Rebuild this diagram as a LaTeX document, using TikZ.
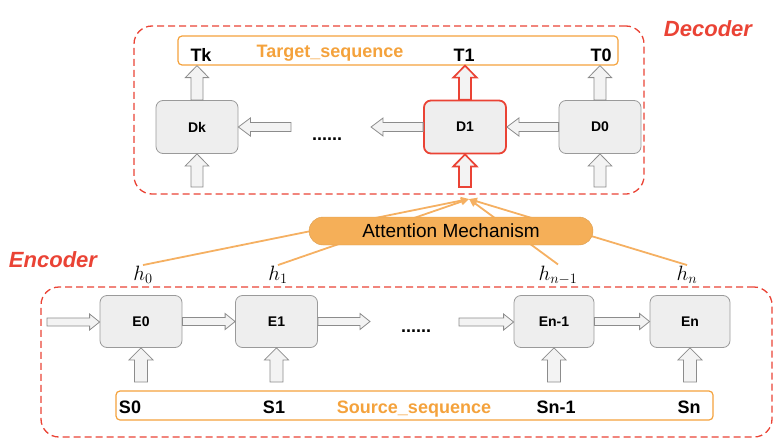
\documentclass[tikz,border=0pt]{standalone}
\usepackage{fontspec}
\setmainfont{Liberation Sans}
\usetikzlibrary{calc,arrows.meta}
\definecolor{myred}{HTML}{EA4335}
\definecolor{seqor}{HTML}{F4A23C}
\definecolor{pillor}{HTML}{F5AF58}
\definecolor{lineor}{HTML}{F5B062}
\definecolor{boxfill}{HTML}{EEEEEE}
\definecolor{boxgray}{HTML}{9A9A9A}
\definecolor{arrfill}{HTML}{F3F3F3}
\definecolor{arrgray}{HTML}{8C8C8C}
\tikzset{
  cell/.style={draw=boxgray, fill=boxfill, rounded corners=7pt, line width=0.8pt,
    minimum width=82pt, minimum height=53pt, inner sep=0pt,
    font=\fontsize{14}{14}\selectfont\bfseries},
  redcell/.style={cell, draw=myred, line width=1.8pt},
  frame/.style={draw=myred, dash pattern=on 7pt off 4pt, line width=1.3pt, rounded corners=18pt, inner sep=0pt},
  seqbox/.style={draw=seqor, line width=1.2pt, rounded corners=4pt, inner sep=0pt},
  seqtxt/.style={font=\fontsize{18}{18}\selectfont\bfseries, inner sep=0pt, anchor=base},
  seqname/.style={seqtxt, text=seqor},
  garrow/.style={draw=arrgray, fill=arrfill, line width=0.8pt, line join=miter},
  rarrow/.style={draw=myred, fill=arrfill, line width=1.7pt, line join=miter},
  att/.style={draw=lineor, line width=1.8pt, -{Triangle[length=8pt,width=7pt]}},
  pill/.style={fill=pillor, draw=pillor!90!black, line width=0.4pt, rounded corners=14pt,
    minimum width=284pt, minimum height=28pt, inner sep=0pt,
    font=\fontsize{19}{19}\selectfont},
  sidelbl/.style={font=\fontsize{22}{22}\selectfont\bfseries\itshape, text=myred, inner sep=0pt},
  hlbl/.style={font=\fontsize{20.74}{24}\selectfont, inner sep=1pt},
  dots/.style={font=\fontsize{18}{18}\selectfont\bfseries, inner sep=0pt, anchor=base}
}
% vertical block arrow going up: style, from, to, half shaft, half head, head length
\newcommand\arrup[6]{%
  \draw[#1] let \p1=(#2), \p2=(#3) in
    ({\x1-#4pt},\y1) -- ({\x1-#4pt},{\y2-#6pt}) -- ({\x1-#5pt},{\y2-#6pt}) -- (\x1,\y2)
    -- ({\x1+#5pt},{\y2-#6pt}) -- ({\x1+#4pt},{\y2-#6pt}) -- ({\x1+#4pt},\y1) -- cycle;}
% horizontal block arrow: style, from, to, half shaft, half head, head length
\newcommand\arrh[6]{%
  \draw[#1] let \p1=(#2), \p2=(#3), \p3=($(#3)!#6pt!(#2)$) in
    (\x1,{\y1-#4pt}) -- (\x3,{\y1-#4pt}) -- (\x3,{\y1-#5pt}) -- (\x2,\y1)
    -- (\x3,{\y1+#5pt}) -- (\x3,{\y1+#4pt}) -- (\x1,{\y1+#4pt}) -- cycle;}
\begin{document}
\begin{tikzpicture}[x=1pt,y=-1pt]
\useasboundingbox (0,0) rectangle (778,439);

% ---------- frames ----------
\node[frame, minimum width=510pt, minimum height=168pt] (decf) at (389,110) {};
\node[frame, minimum width=731pt, minimum height=150pt] (encf) at (406.5,362) {};
\node[sidelbl] (declbl) at (708,29) {Decoder};
\node[sidelbl] (enclbl) at (53,260) {Encoder};

% ---------- decoder ----------
\node[seqbox, minimum width=440pt, minimum height=29pt] (tgt) at (398,50.5) {};
\node[seqtxt] (tk) at (201,61.5) {Tk};
\node[seqname] (tname) at (330,57) {Target\_sequence};
\node[seqtxt] (t1) at (464,61.5) {T1};
\node[seqtxt] (t0) at (601,61.5) {T0};

\node[cell] (Dk) at (197,127) {Dk};
\node[redcell] (D1) at (465,127) {D1};
\node[cell] (D0) at (600,127) {D0};
\node[dots] (ddots) at (327,140) {......};

\coordinate (dbot) at (0,187);
\coordinate (dl1) at (371,127);
\coordinate (dl2) at (291,127);

\arrup{garrow}{Dk.north}{Dk.north |- tgt.south}{6}{11.7}{12}
\arrup{garrow}{D0.north}{D0.north |- tgt.south}{6}{11.7}{12}
\arrup{rarrow}{D1.north}{D1.north |- tgt.south}{6}{11.7}{12}
\arrup{garrow}{Dk.south |- dbot}{Dk.south}{6}{11.7}{12}
\arrup{garrow}{D0.south |- dbot}{D0.south}{6}{11.7}{12}
\arrup{rarrow}{D1.south |- dbot}{D1.south}{6}{11.7}{12}

\arrh{garrow}{D0.west}{D1.east}{4.5}{9}{12}
\arrh{garrow}{D1.west}{dl1}{4.5}{9}{12}
\arrh{garrow}{dl2}{Dk.east}{4.5}{9}{12}

% ---------- encoder ----------
\node[seqbox, minimum width=597pt, minimum height=29pt] (src) at (414.5,405.5) {};
\node[seqtxt] (s0) at (130,413) {S0};
\node[seqtxt] (s1) at (274,413) {S1};
\node[seqname] (sname) at (414,413) {Source\_sequence};
\node[seqtxt] (sn1) at (556,413) {Sn-1};
\node[seqtxt] (sn) at (689,413) {Sn};

\node[cell, minimum height=52pt] (E0) at (141,321.5) {E0};
\node[cell, minimum height=52pt] (E1) at (276.5,321.5) {E1};
\node[cell, minimum width=80pt, minimum height=52pt] (En1) at (554,321.5) {En-1};
\node[cell, minimum width=80pt, minimum height=52pt] (En) at (690,321.5) {En};
\node[dots] (edots) at (416,332) {......};

\coordinate (ebot) at (0,382);
\coordinate (el0) at (47,322);
\coordinate (el1) at (370,322);
\coordinate (el2) at (459,322);

\arrup{garrow}{E0.south |- ebot}{E0.south}{6.5}{12}{12}
\arrup{garrow}{E1.south |- ebot}{E1.south}{6.5}{12}{12}
\arrup{garrow}{En1.south |- ebot}{En1.south}{6.5}{12}{12}
\arrup{garrow}{En.south |- ebot}{En.south}{6.5}{12}{12}

\arrh{garrow}{el0}{E0.west}{4}{8}{10}
\arrh{garrow}{E0.east}{E1.west}{4}{8}{10}
\arrh{garrow}{E1.east}{el1}{4}{8}{10}
\arrh{garrow}{el2}{En1.west}{4}{8}{10}
\arrh{garrow}{En1.east}{En.west}{4}{8}{10}

% ---------- attention ----------
\node[hlbl] (h0) at (143,275) {$h_0$};
\node[hlbl] (h1) at (278,275) {$h_1$};
\node[hlbl] (hn1) at (558,275) {$h_{n-1}$};
\node[hlbl] (hn) at (687,275) {$h_n$};
\coordinate (cv) at (469,199);
\draw[att] (h0.north) -- (cv);
\draw[att] (h1.north) -- (cv);
\draw[att] (hn1.north) -- (cv);
\draw[att] (hn.north) -- (cv);
\node[pill] (att) at (451,231) {Attention Mechanism};
\end{tikzpicture}
\end{document}
